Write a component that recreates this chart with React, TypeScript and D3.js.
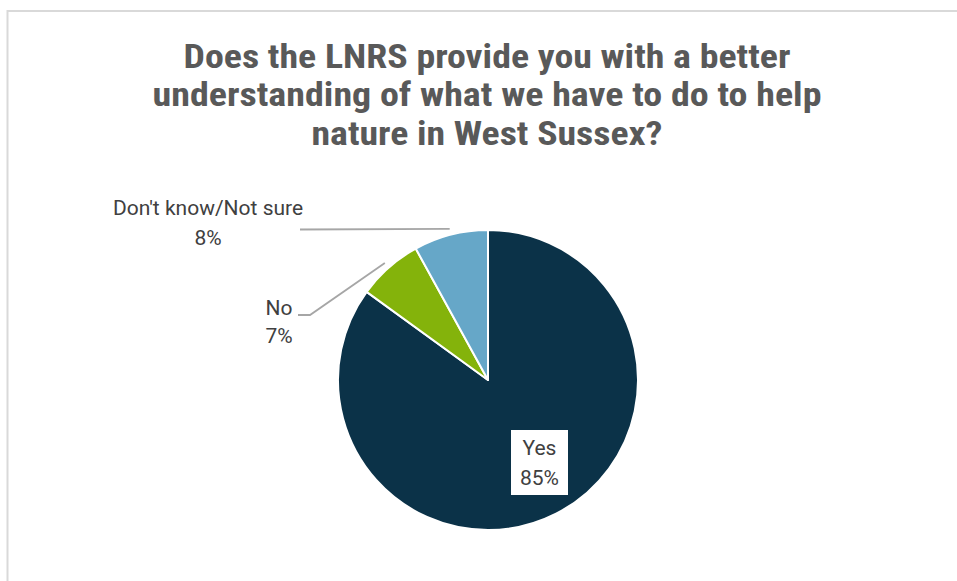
import React from "react";
import * as d3 from "d3";

const categories = ["Yes", "No", "Don't know/Not sure"];
const values = [85, 7, 8];
const percentLabels = ["85%", "7%", "8%"];
const colors = ["#0B3248", "#84B30B", "#66A7C8"];
const titleLines = [
  "Does the LNRS provide you with a better",
  "understanding of what we have to do to help",
  "nature in West Sussex?",
];

const W = 957;
const H = 581;
const cx = 488;
const cy = 380;
const R = 150;

const titleWidths = [607, 669, 351];
const titleBaselines = [68, 106, 145];

export default function App() {
  const pie = d3
    .pie<number>()
    .sort(null)
    .value((d) => d)
    .startAngle(0)
    .endAngle(2 * Math.PI);
  const arcs = pie(values);
  const arcGen = d3.arc<d3.PieArcDatum<number>>().innerRadius(0).outerRadius(R);
  const mid = (a: d3.PieArcDatum<number>) => (a.startAngle + a.endAngle) / 2;
  const pt = (ang: number, r: number) => [cx + r * Math.sin(ang), cy - r * Math.cos(ang)];

  const labelFont = "Roboto, 'Liberation Sans', Arial, sans-serif";
  const labelColor = "#404040";

  const yesBox = { x: 511, y: 430, w: 57, h: 65 };
  const dkEnd = pt(mid(arcs[2]), R + 4);
  const noEnd = pt(mid(arcs[1]), R + 6);

  return (
    <svg
      width={W}
      height={H}
      style={{ position: "fixed", left: 0, top: 0, background: "#fff" }}
    >
      <rect x={0} y={0} width={W} height={H} fill="#fff" />
      <line x1={7.5} y1={11} x2={W} y2={11} stroke="#D9D9D9" strokeWidth={2} />
      <line x1={7.5} y1={10} x2={7.5} y2={H} stroke="#D9D9D9" strokeWidth={2} />

      {titleLines.map((t, i) => (
        <text
          key={i}
          x={487}
          y={titleBaselines[i]}
          textAnchor="middle"
          fontFamily="'Liberation Sans Narrow', 'Roboto Condensed', Roboto, sans-serif"
          fontWeight="bold"
          fontSize={33}
          fill="#595959"
          textLength={titleWidths[i]}
          lengthAdjust="spacingAndGlyphs"
        >
          {t}
        </text>
      ))}

      <g transform={`translate(${cx},${cy})`}>
        {arcs.map((a, i) => (
          <path
            key={i}
            d={arcGen(a) || ""}
            fill={colors[i]}
            stroke="#fff"
            strokeWidth={2}
            strokeLinejoin="round"
          />
        ))}
      </g>

      <polyline
        points={`300,229.5 ${dkEnd[0]},${dkEnd[1] - 2}`}
        fill="none"
        stroke="#A6A6A6"
        strokeWidth={1.8}
      />
      <polyline
        points={`298,315 310,315 ${noEnd[0]},${noEnd[1]}`}
        fill="none"
        stroke="#A6A6A6"
        strokeWidth={1.8}
      />

      <text x={208} y={215} textAnchor="middle" fontFamily={labelFont} fontSize={21} fill={labelColor}>
        {categories[2]}
      </text>
      <text x={208} y={245} textAnchor="middle" fontFamily={labelFont} fontSize={21} fill={labelColor}>
        {percentLabels[2]}
      </text>

      <text x={279} y={315} textAnchor="middle" fontFamily={labelFont} fontSize={21} fill={labelColor}>
        {categories[1]}
      </text>
      <text x={279} y={343} textAnchor="middle" fontFamily={labelFont} fontSize={21} fill={labelColor}>
        {percentLabels[1]}
      </text>

      <rect x={yesBox.x} y={yesBox.y} width={yesBox.w} height={yesBox.h} fill="#fff" />
      <text
        x={yesBox.x + yesBox.w / 2}
        y={455}
        textAnchor="middle"
        fontFamily={labelFont}
        fontSize={21}
        fill={labelColor}
      >
        {categories[0]}
      </text>
      <text
        x={yesBox.x + yesBox.w / 2}
        y={485}
        textAnchor="middle"
        fontFamily={labelFont}
        fontSize={21}
        fill={labelColor}
      >
        {percentLabels[0]}
      </text>
    </svg>
  );
}
